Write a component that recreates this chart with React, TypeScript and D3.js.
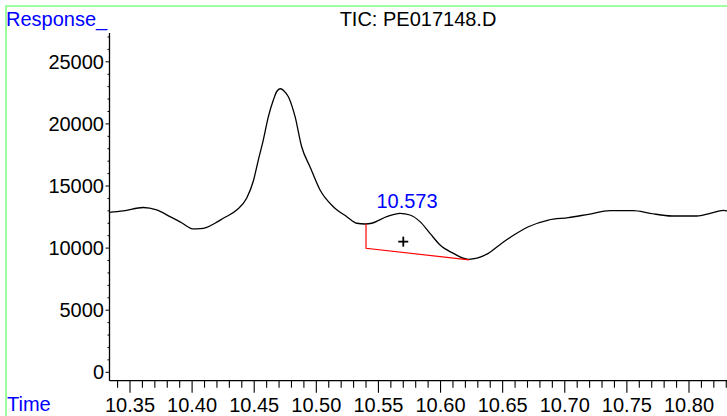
import React from "react";
import * as d3 from "d3";

const times = [10.3331, 10.3446, 10.3607, 10.3715, 10.3822, 10.3919, 10.401, 10.4064, 10.4118, 10.4184, 10.4251, 10.4359, 10.444, 10.4493, 10.4533, 10.4573, 10.4614, 10.4654, 10.4684, 10.4712, 10.474, 10.4775, 10.4829, 10.4882, 10.4949, 10.503, 10.5137, 10.5245, 10.5325, 10.5392, 10.5446, 10.5567, 10.5674, 10.5754, 10.5835, 10.5915, 10.5996, 10.6103, 10.6224, 10.6385, 10.6493, 10.66, 10.6707, 10.6868, 10.7029, 10.719, 10.7365, 10.7552, 10.7687, 10.7862, 10.8063, 10.817, 10.8277, 10.8306];
const responses = [12870, 12990, 13270, 13070, 12540, 12020, 11540, 11560, 11675, 12000, 12400, 13070, 14030, 15400, 17090, 18700, 20580, 21920, 22650, 22830, 22650, 22190, 20580, 18160, 16550, 14680, 13330, 12530, 12000, 11940, 12000, 12530, 12800, 12665, 12130, 11190, 10250, 9580, 9100, 9580, 10390, 11110, 11720, 12260, 12450, 12720, 13010, 13010, 12800, 12585, 12585, 12800, 13040, 12990];

const baselineTimes = [10.54, 10.54, 10.623];
const baselineValues = [11990, 9990, 9050];
const peakLabel = "10.573";
const peakTime = 10.573;
const centroid = [10.57, 10520];

const xMajorTicks = [10.35, 10.4, 10.45, 10.5, 10.55, 10.6, 10.65, 10.7, 10.75, 10.8];
const yMajorTicks = [0, 5000, 10000, 15000, 20000, 25000];
const title = "TIC: PE017148.D";

export default function App() {
  const W = 727, H = 416;
  const x = d3.scaleLinear().domain([10.3331, 10.8306]).range([109, 727]);
  const y = d3.scaleLinear().domain([0, 25000]).range([372.3, 61.8]);
  const axisY = 380.7;
  const axisX = 109.5;
  const axisTop = 33;
  const font = "'Liberation Sans', Arial, sans-serif";

  const xMinor = d3.range(1034, 1084).map((v) => v / 100);
  const yMinor = d3.range(0, 28000, 1000);

  const pts: [number, number][] = times.map((t, i) => [t, responses[i]]);
  const line = d3.line<[number, number]>().x((d) => x(d[0])).y((d) => y(d[1])).curve(d3.curveMonotoneX);
  const bl: [number, number][] = baselineTimes.map((t, i) => [t, baselineValues[i]]);
  const blLine = d3.line<[number, number]>().x((d) => x(d[0])).y((d) => y(d[1]));

  const cx = x(centroid[0]), cy = y(centroid[1]);

  return (
    <svg width={W} height={H} style={{ position: "absolute", left: 0, top: 0, background: "#fff" }}>
      <rect x={6} y={6} width={740} height={440} fill="none" stroke="#7dff7d" strokeWidth={1.5} />
      <text x={6} y={26} fill="#0000ff" fontFamily={font} fontSize={20}>Response_</text>
      <text x={418} y={26} textAnchor="middle" fill="#000" fontFamily={font} fontSize={20}>{title}</text>
      <text x={7} y={411} fill="#0000ff" fontFamily={font} fontSize={20}>Time</text>

      {/* axes */}
      <line x1={axisX} x2={axisX} y1={axisTop} y2={axisY} stroke="#000" strokeWidth={1.3} />
      <line x1={axisX} x2={W} y1={axisY} y2={axisY} stroke="#000" strokeWidth={1.3} />

      {yMinor.map((v) => (
        <line key={"ym" + v} x1={axisX - (v % 5000 === 0 ? 4 : 2)} x2={axisX} y1={y(v)} y2={y(v)} stroke="#000" strokeWidth={1} />
      ))}
      {yMajorTicks.map((v) => (
        <text key={"yl" + v} x={104} y={y(v) + 7} textAnchor="end" fontFamily={font} fontSize={20} fill="#000">{v}</text>
      ))}

      {xMinor.map((v) => {
        const major = Math.round(v * 100) % 5 === 0;
        return <line key={"xm" + v} x1={x(v)} x2={x(v)} y1={axisY} y2={axisY + (major ? 12 : 7)} stroke="#000" strokeWidth={1.1} />;
      })}
      {xMajorTicks.map((v) => (
        <text key={"xl" + v} x={x(v)} y={412} textAnchor="middle" fontFamily={font} fontSize={20} fill="#000">{v.toFixed(2)}</text>
      ))}

      <path d={line(pts) || ""} fill="none" stroke="#000" strokeWidth={1.3} />
      <path d={blLine(bl) || ""} fill="none" stroke="#ff0000" strokeWidth={1.2} />
      <text x={x(peakTime)} y={208} textAnchor="middle" fill="#0000ff" fontFamily={font} fontSize={20}>{peakLabel}</text>
      <line x1={cx - 5} x2={cx + 5} y1={cy} y2={cy} stroke="#000" strokeWidth={1.8} />
      <line x1={cx} x2={cx} y1={cy - 5} y2={cy + 5} stroke="#000" strokeWidth={1.8} />
    </svg>
  );
}
